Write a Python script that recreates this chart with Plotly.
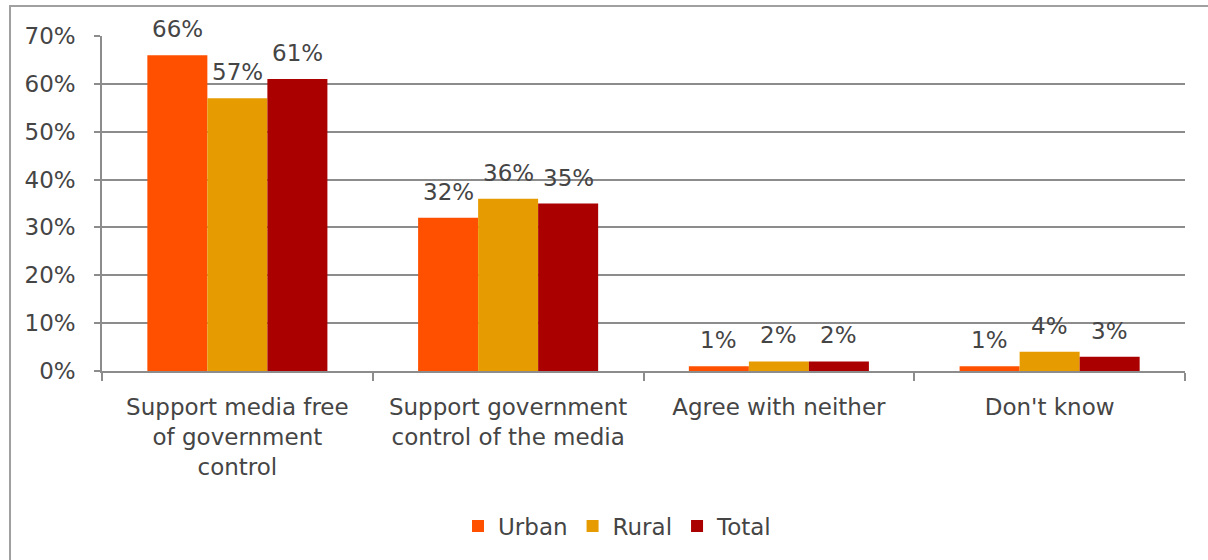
import plotly.graph_objects as go

categories = [
    "Support media free<br>of government<br>control",
    "Support government<br>control of the media",
    "Agree with neither",
    "Don't know",
]
urban = [66, 32, 1, 1]
rural = [57, 36, 2, 4]
total = [61, 35, 2, 3]

series = [("Urban", urban, "#FF5000"), ("Rural", rural, "#E69C00"), ("Total", total, "#AA0000")]

FONT = "DejaVu Sans"
TXT = "#454545"
GRID = "#8C8C8C"
FS = 23

W, H = 1208, 560
L, R, T, B = 102, 23, 36, 189
pw, ph = W - L - R, H - T - B
BAR_PX = 60  # width of each bar in pixels (3 per group)

fig = go.Figure()
annotations = []
for i, (name, vals, color) in enumerate(series):
    fig.add_trace(go.Bar(
        name=name, x=categories, y=vals, marker_color=color,
        marker_line_width=0,
    ))
    # value labels above each bar
    for cat, v in zip(categories, vals):
        annotations.append(dict(
            x=cat, y=v, xref="x", yref="y", text=f"{v}%", showarrow=False,
            xanchor="center", yanchor="bottom", xshift=(i - 1) * BAR_PX, yshift=11,
            font=dict(family=FONT, size=FS, color=TXT),
        ))

fig.update_layout(
    width=W, height=H,
    margin=dict(l=L, r=R, t=T, b=B),
    paper_bgcolor="white", plot_bgcolor="white",
    barmode="group", bargap=0.335, bargroupgap=0,
    font=dict(family=FONT, size=FS, color=TXT),
    legend=dict(orientation="h", x=0.476, xanchor="center", y=-0.463, yanchor="middle",
                font=dict(family=FONT, size=FS, color=TXT), itemwidth=30,
                traceorder="normal"),
    xaxis=dict(showline=True, linecolor=GRID, linewidth=1.5,
               ticks="outside", ticklen=8, tickcolor=GRID, tickwidth=1.5,
               tickson="boundaries", showgrid=False, ticklabelstandoff=15,
               tickfont=dict(family=FONT, size=FS, color=TXT)),
    yaxis=dict(range=[0, 70], dtick=10, ticksuffix="%",
               showline=True, linecolor=GRID, linewidth=1.5,
               ticks="outside", ticklen=6, tickcolor=GRID, tickwidth=1.5,
               showgrid=True, gridcolor=GRID, gridwidth=1.5, zeroline=False,
               ticklabelstandoff=14,
               tickfont=dict(family=FONT, size=FS, color=TXT)),
    annotations=annotations,
    shapes=[dict(type="rect", xref="paper", yref="paper",
                 x0=(10 - L) / pw, x1=(W + 20 - L) / pw,
                 y0=-(B + 40) / ph, y1=(H - 6 - B) / ph,
                 line=dict(color="#A0A0A0", width=2), fillcolor="rgba(0,0,0,0)", layer="below")],
)

fig.write_html("out.html")
